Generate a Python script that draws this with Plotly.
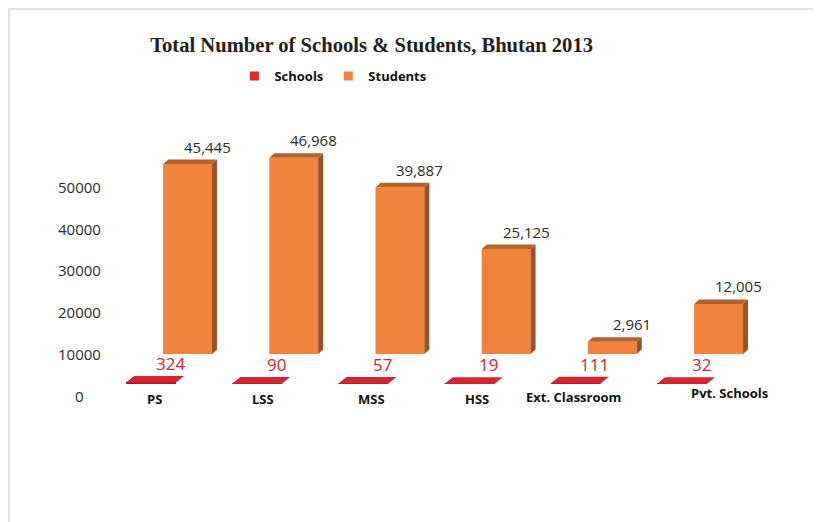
import plotly.graph_objects as go

# data
categories = ["PS", "LSS", "MSS", "HSS", "Ext. Classroom", "Pvt. Schools"]
schools = [324, 90, 57, 19, 111, 32]
students = [45445, 46968, 39887, 25125, 2961, 12005]
y_ticks = [0, 10000, 20000, 30000, 40000, 50000]

# geometry of the fake 3D look (axis units)
PX_X = 106.2                 # px per category
PX_Y = 276 / 66000           # px per unit of y
STUD_OFF, STUD_W, STUD_BASE = 0.344, 0.46, 10000
SCH_OFF, SCH_W, SCH_BASE = 0.0, 0.47, 2900
STUD_DX, STUD_DY = 5 / PX_X, 4.5 / PX_Y
SCH_DX, SCH_DY = 8 / PX_X, 6.5 / PX_Y

ORANGE, ORANGE_TOP, ORANGE_SIDE = "#F0843C", "#B5632C", "#9A5227"
RED, RED_TOP = "#A8161E", "#D42630"
LABEL_NUDGE_X = [3, 6, 8, 7, -2, 47]
LABEL_NUDGE_Y = [-3, -3, -3, -3, -1, 3]

idx = list(range(len(categories)))


def faces(offset, width, base, values, dx, dy, side=True):
    top_x, top_y, side_x, side_y = [], [], [], []
    for i, v in zip(idx, values):
        xl = i + offset - width / 2
        xr = i + offset + width / 2
        t = base + v
        top_x += [xl, xl + dx, xr + dx, xr, xl, None]
        top_y += [t, t + dy, t + dy, t, t, None]
        if side:
            side_x += [xr, xr + dx, xr + dx, xr, xr, None]
            side_y += [base, base + dy, t + dy, t, base, None]
    return top_x, top_y, side_x, side_y


fig = go.Figure()

# students (back row)
stx, sty, ssx, ssy = faces(STUD_OFF, STUD_W, STUD_BASE, students, STUD_DX, STUD_DY)
fig.add_trace(go.Bar(
    x=[i + STUD_OFF for i in idx], y=students, base=STUD_BASE, width=STUD_W,
    marker=dict(color=ORANGE, line_width=0), hoverinfo="skip", showlegend=False,
))
fig.add_trace(go.Scatter(x=ssx, y=ssy, fill="toself", mode="lines", line_width=0,
                         fillcolor=ORANGE_SIDE, hoverinfo="skip", showlegend=False))
fig.add_trace(go.Scatter(x=stx, y=sty, fill="toself", mode="lines", line_width=0,
                         fillcolor=ORANGE_TOP, hoverinfo="skip", showlegend=False))

# schools (front row, nearly flat)
ktx, kty, _, _ = faces(SCH_OFF, SCH_W, SCH_BASE, schools, SCH_DX, SCH_DY, side=False)
fig.add_trace(go.Bar(
    x=[i + SCH_OFF for i in idx], y=schools, base=SCH_BASE, width=SCH_W,
    marker=dict(color=RED, line_width=0), hoverinfo="skip", showlegend=False,
))
fig.add_trace(go.Scatter(x=ktx, y=kty, fill="toself", mode="lines", line_width=0,
                         fillcolor=RED_TOP, hoverinfo="skip", showlegend=False))

# legend entries
fig.add_trace(go.Scatter(x=[None], y=[None], mode="markers", name="Schools",
                         marker=dict(symbol="square", size=9, color="#E8262E")))
fig.add_trace(go.Scatter(x=[None], y=[None], mode="markers", name="Students",
                         marker=dict(symbol="square", size=9, color="#F0843C")))

ann = []
for i, v in zip(idx, students):
    ann.append(dict(x=i + STUD_OFF, y=STUD_BASE + v + STUD_DY, text=f"{v:,}",
                    xshift=20, yshift=1, yanchor="bottom", showarrow=False,
                    font=dict(family="Open Sans", size=15, color="#2b2b2b")))
for i, v in zip(idx, schools):
    ann.append(dict(x=i + SCH_OFF, y=SCH_BASE + v + SCH_DY, text=str(v),
                    xshift=19, yshift=-1, yanchor="bottom", showarrow=False,
                    font=dict(family="Open Sans", size=17, color="#D42630")))
for i, c in zip(idx, categories):
    ann.append(dict(x=i + SCH_OFF, y=0, text=c, xshift=LABEL_NUDGE_X[i],
                    yshift=LABEL_NUDGE_Y[i], yanchor="middle", showarrow=False,
                    font=dict(family="Open Sans", size=13, color="#111", weight="bold")))
for t in y_ticks:
    ann.append(dict(x=-0.03, xref="paper", y=t, text=str(t), xanchor="center",
                    showarrow=False,
                    font=dict(family="Open Sans", size=15, color="#2b2b2b")))

# page body adds an 8px offset; figure is sized to fill the rest
fig.update_layout(
    width=813, height=514,
    margin=dict(l=92, r=21, t=137, b=101),
    paper_bgcolor="white", plot_bgcolor="white",
    barmode="overlay",
    title=dict(text="<b>Total Number of Schools & Students, Bhutan 2013</b>",
               xref="paper", x=0.388, xanchor="center",
               y=1 - 37 / 514, yanchor="middle",
               font=dict(family="Liberation Serif", size=20.6, color="#231f20")),
    xaxis=dict(range=[-51 / PX_X, -51 / PX_X + 700 / PX_X], visible=False),
    yaxis=dict(range=[-6000, 60000], visible=False),
    legend=dict(orientation="h", x=0.192, xanchor="left", y=1.25, yanchor="middle",
                font=dict(family="Open Sans", size=13, color="#111", weight="bold")),
    annotations=ann,
    shapes=[
        dict(type="line", xref="paper", yref="paper", x0=-92 / 700, x1=721 / 700,
             y0=412 / 276, y1=412 / 276, line=dict(color="#e3e3e3", width=2)),
        dict(type="line", xref="paper", yref="paper", x0=-91 / 700, x1=-91 / 700,
             y0=412 / 276, y1=-101 / 276, line=dict(color="#e3e3e3", width=2)),
    ],
)

fig.write_html("out.html")
